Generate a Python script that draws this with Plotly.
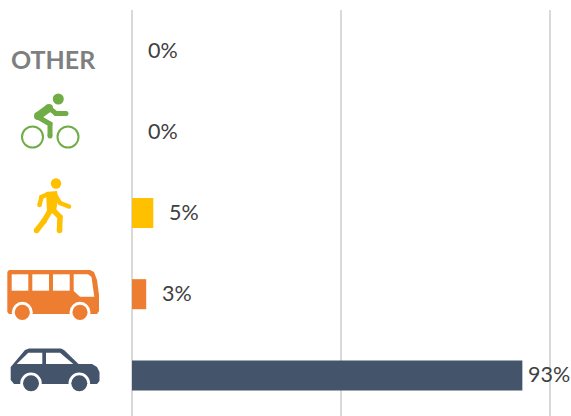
import plotly.graph_objects as go

modes = ["Car", "Bus", "Walk", "Bike", "Other"]
shares = [93.5, 3.4, 5.1, 0, 0]
labels = ["93%", "3%", "5%", "0%", "0%"]
colors = ["#44546A", "#ED7D31", "#FFC000", "#70AD47", "#7F7F7F"]
label_gaps = [4, 13.5, 13.5, 13.5, 13.5]

W, H = 571, 416
def fx(x): return x / W
def fy(y): return 1 - y / H

shapes = []
def poly(pts, color, line=0):
    d = "M" + " L".join(f"{fx(x):.5f},{fy(y):.5f}" for x, y in pts) + " Z"
    shapes.append(dict(type="path", xref="paper", yref="paper", path=d, fillcolor=color,
                       line=dict(width=line, color=color)))
def circle(cx, cy, r, fill, line=None, lw=0):
    shapes.append(dict(type="circle", xref="paper", yref="paper",
                       x0=fx(cx - r), x1=fx(cx + r), y0=fy(cy + r), y1=fy(cy - r),
                       fillcolor=fill, line=dict(width=lw, color=line or fill)))
def stroke(pts, w, color):
    d = "M" + " L".join(f"{fx(x):.5f},{fy(y):.5f}" for x, y in pts)
    shapes.append(dict(type="path", xref="paper", yref="paper", path=d,
                       line=dict(width=w, color=color)))
    for x, y in pts:
        circle(x, y, w / 2, color)

# Bike icon
G = "#70AD47"
circle(32.5, 137, 10.5, "rgba(0,0,0,0)", G, 2)
circle(68, 137, 10.5, "rgba(0,0,0,0)", G, 2)
circle(58.3, 99, 5.5, G)
stroke([(38, 116), (49, 108)], 8, G)
stroke([(49, 108), (56, 113.5), (66, 113.5)], 5, G)
stroke([(38, 117), (50, 124), (50, 136)], 5, G)

# Walker icon
Y = "#FFC000"
circle(56, 183.5, 5.2, Y)
poly([(46, 192), (57, 191), (58, 198), (56, 212), (47, 212)], Y)
stroke([(48, 194), (41.5, 197), (39.5, 205)], 4.5, Y)
stroke([(55, 195), (60, 203), (69, 206.5)], 4.5, Y)
stroke([(50, 211), (44, 221), (36.5, 230.5)], 5.5, Y)
stroke([(52, 209), (60, 217), (59.5, 230.5)], 5.5, Y)

# Bus icon
O = "#ED7D31"
poly([(9, 270), (90, 270), (94, 272), (97, 280), (99, 295), (99, 311), (97, 314),
      (9, 314), (7.3, 312), (7.3, 272)], O)
for x0, x1 in [(11.7, 28.3), (32.3, 49), (53, 69.7)]:
    poly([(x0, 274.3), (x1, 274.3), (x1, 290.7), (x0, 290.7)], "white")
poly([(73.7, 274.3), (88, 274.3), (91.5, 277), (94.3, 296.7), (80, 296.7), (73.7, 291)], "white")
for cx in (22.3, 80):
    circle(cx, 312.3, 10.5, "white")
    circle(cx, 312.3, 7.6, O)

# Car icon
N = "#44546A"
poly([(10.7, 367), (25, 350), (29, 348.5), (61, 348.5), (64, 350), (78.5, 364), (92, 364),
      (97, 367), (99.5, 372), (99.5, 381), (97, 384), (14, 384), (10.7, 380)], N)
poly([(16.7, 364), (28.3, 352.7), (42.3, 352.7), (42.3, 364)], "white")
poly([(46, 352.7), (60, 352.7), (73.3, 364), (46, 364)], "white")
for cx in (31, 79.3):
    circle(cx, 383.3, 10.8, "white")
    circle(cx, 383.3, 8, N)

fig = go.Figure(go.Bar(y=modes, x=shares, orientation="h", marker=dict(color=colors, line_width=0),
                       width=0.37, hoverinfo="skip"))

annotations = [dict(x=v, y=m, text=t, xref="x", yref="y", xanchor="left", yanchor="middle",
                    xshift=g, yshift=1, showarrow=False,
                    font=dict(family="Lato", size=21.5, color="#404040"))
               for m, v, t, g in zip(modes, shares, labels, label_gaps)]
annotations.append(dict(x=53.5 / W, y=fy(59), xref="paper", yref="paper", text="<b>OTHER</b>",
                        showarrow=False, xanchor="center", yanchor="middle",
                        font=dict(family="Lato", size=25, color="#7F7F7F")))

fig.update_layout(
    width=W, height=H, margin=dict(l=0, r=0, t=0, b=0), showlegend=False,
    paper_bgcolor="white", plot_bgcolor="white",
    xaxis=dict(domain=[132 / W, 1], range=[0, (W - 132) / 4.175], tickvals=[0, 50, 100],
               showticklabels=False, showgrid=True, gridcolor="#D9D9D9", gridwidth=2,
               zeroline=True, zerolinecolor="#D9D9D9", zerolinewidth=2, ticks=""),
    yaxis=dict(domain=[0, 1 - 10 / H], range=[-0.5, 4.5], categoryorder="array",
               categoryarray=modes, showticklabels=False, showgrid=False, zeroline=False, ticks=""),
    shapes=shapes, annotations=annotations,
)
fig.write_html("out.html", config=dict(displayModeBar=False),
               post_script="document.body.style.margin='0';document.documentElement.style.overflow='hidden';")
